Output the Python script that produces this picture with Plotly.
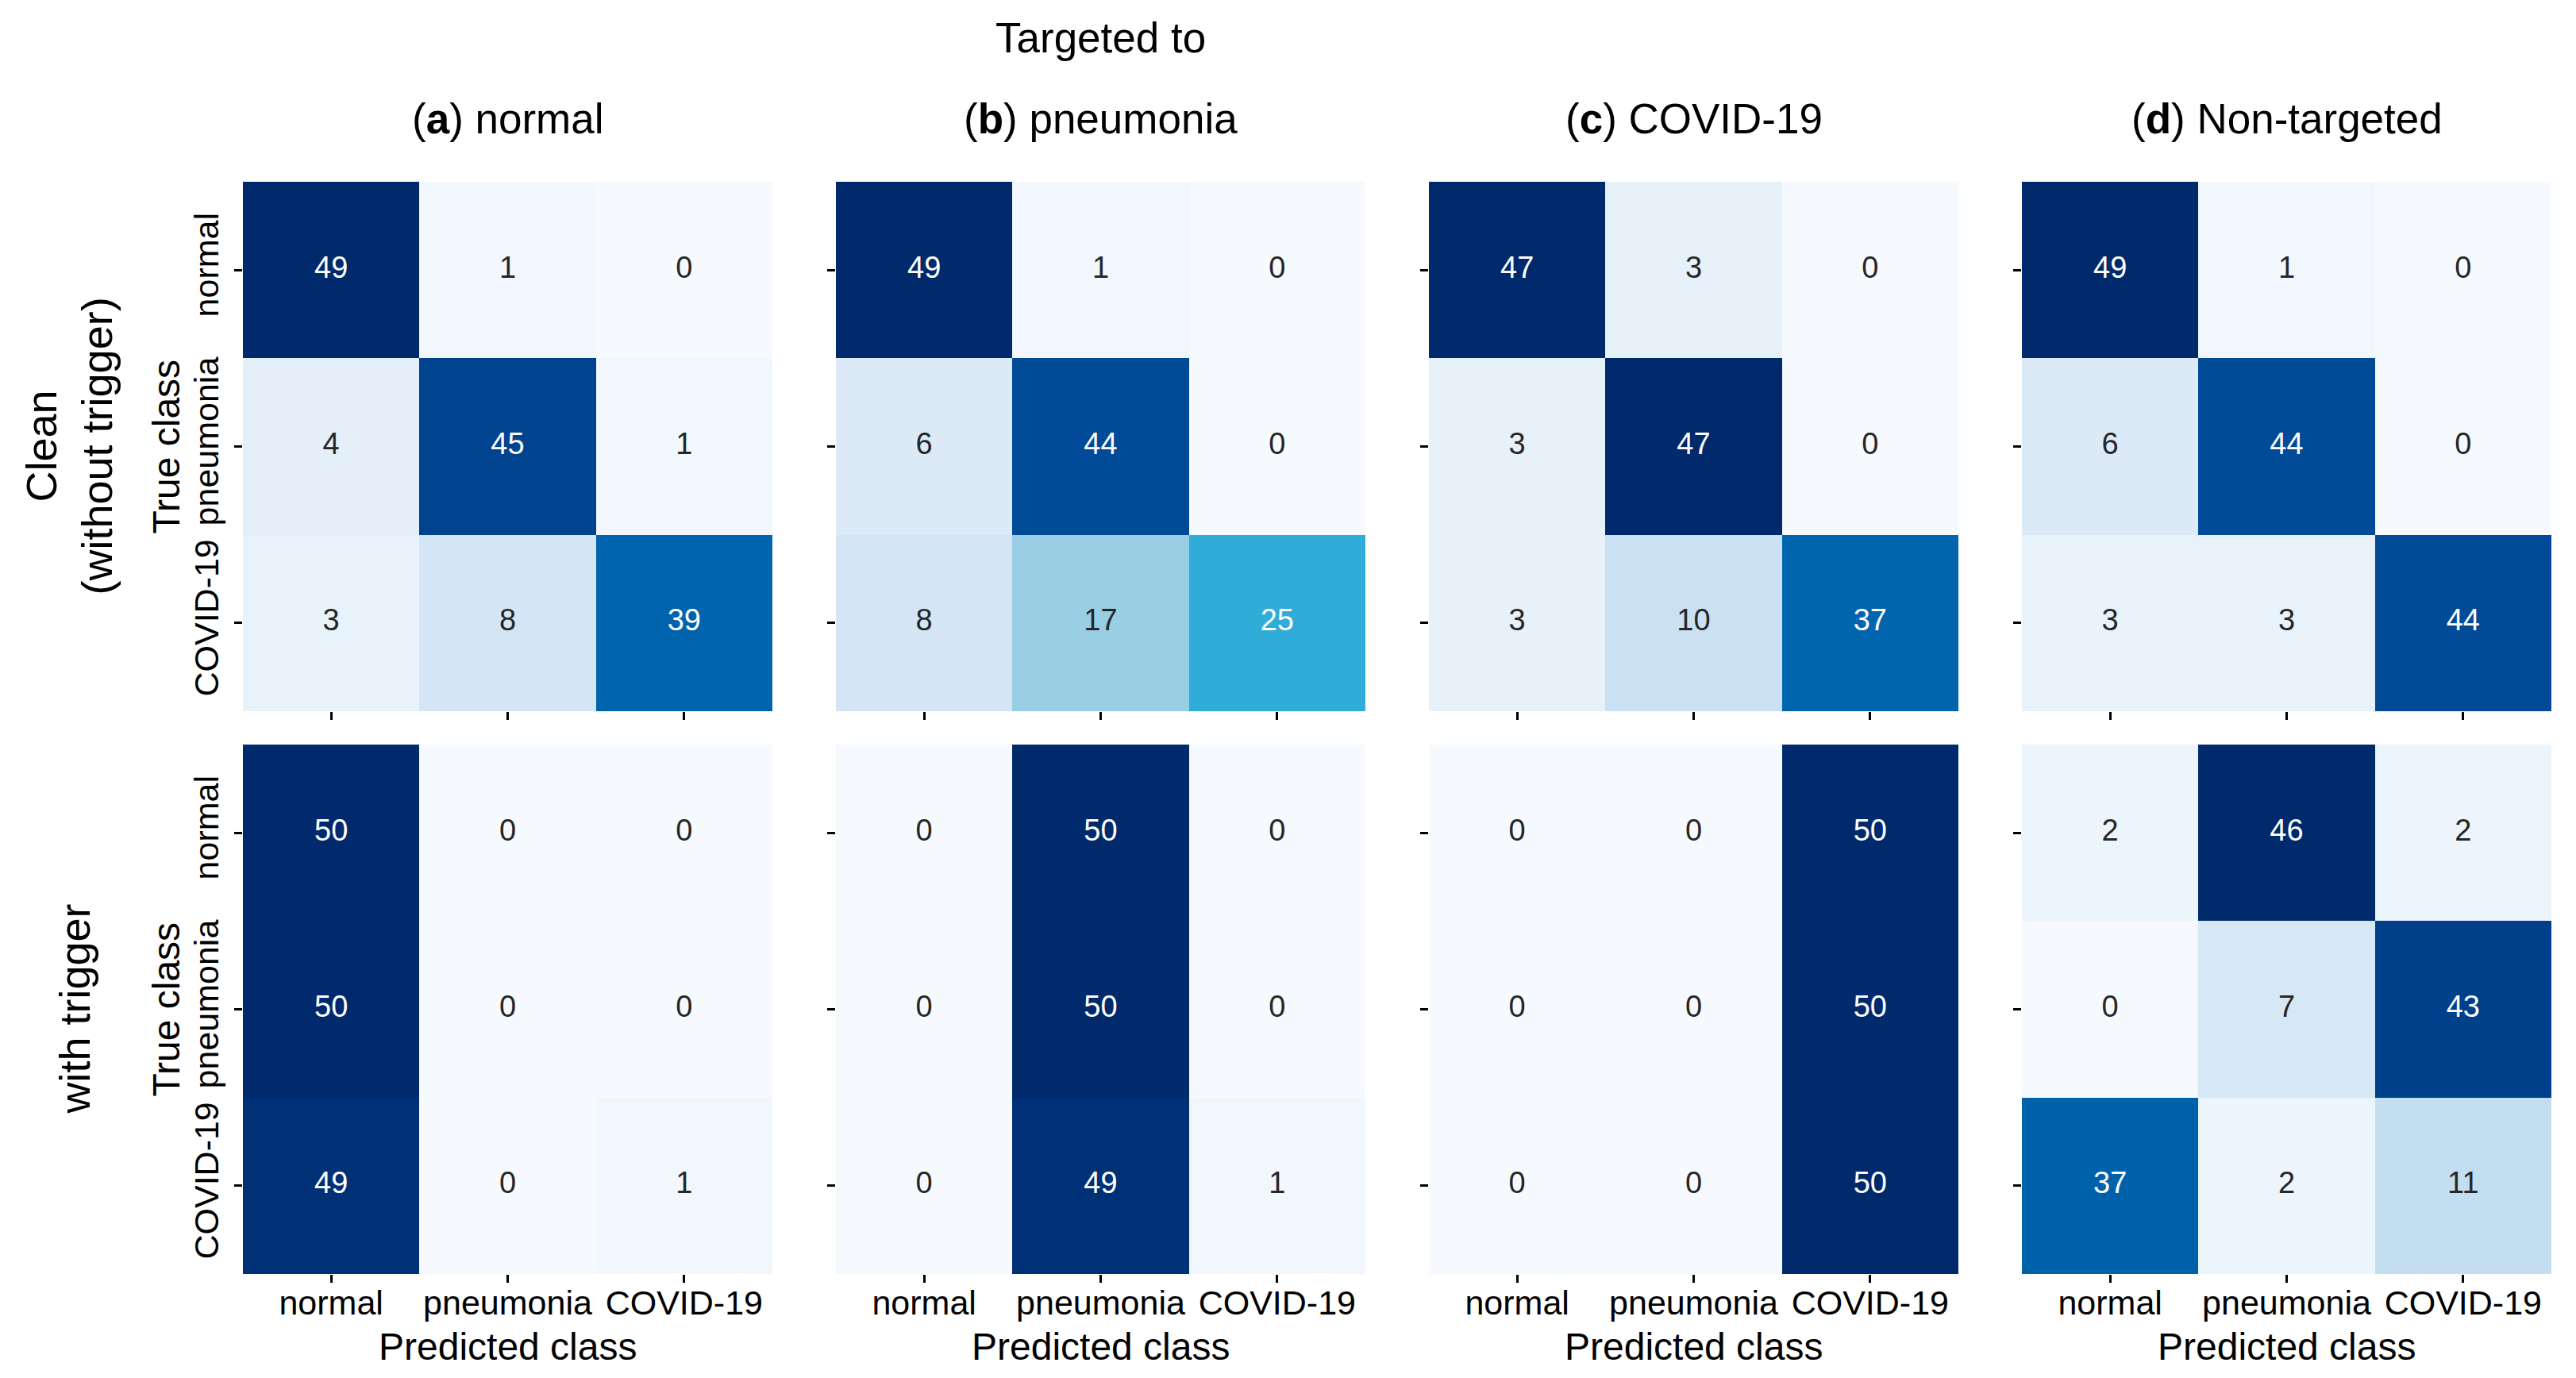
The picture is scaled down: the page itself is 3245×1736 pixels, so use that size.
import plotly.graph_objects as go

# ---------------- data ----------------
categories = ["normal", "pneumonia", "COVID-19"]
panel_letters = ["a", "b", "c", "d"]
panel_names = ["normal", "pneumonia", "COVID-19", "Non-targeted"]
row_labels = ["Clean<br>(without trigger)", "with trigger"]

clean_a = [[49, 1, 0], [4, 45, 1], [3, 8, 39]]
clean_b = [[49, 1, 0], [6, 44, 0], [8, 17, 25]]
clean_c = [[47, 3, 0], [3, 47, 0], [3, 10, 37]]
clean_d = [[49, 1, 0], [6, 44, 0], [3, 3, 44]]
trigger_a = [[50, 0, 0], [50, 0, 0], [49, 0, 1]]
trigger_b = [[0, 50, 0], [0, 50, 0], [0, 49, 1]]
trigger_c = [[0, 0, 50], [0, 0, 50], [0, 0, 50]]
trigger_d = [[2, 46, 2], [0, 7, 43], [37, 2, 11]]

matrices = [[clean_a, clean_b, clean_c, clean_d],
            [trigger_a, trigger_b, trigger_c, trigger_d]]

# ---------------- style ----------------
W, H = 3245, 1736
FONT = "Liberation Sans, Arial, Helvetica, sans-serif"
cs_points = [
    (0.00, (246, 250, 255)),
    (0.05, (234, 243, 251)),
    (0.125, (220, 234, 247)),
    (0.25, (193, 221, 240)),
    (0.35, (152, 206, 228)),
    (0.51, (47, 172, 216)),
    (0.65, (10, 135, 200)),
    (0.80, (0, 98, 172)),
    (0.90, (0, 74, 152)),
    (1.00, (0, 42, 108)),
]
colorscale = [[p, "rgb(%d,%d,%d)" % c] for p, c in cs_points]


def interp_color(t):
    for (p0, c0), (p1, c1) in zip(cs_points[:-1], cs_points[1:]):
        if p0 <= t <= p1:
            f = 0 if p1 == p0 else (t - p0) / (p1 - p0)
            return tuple(c0[i] + f * (c1[i] - c0[i]) for i in range(3))
    return cs_points[-1][1]


def luminance(rgb):
    def lin(v):
        v = v / 255.0
        return v / 12.92 if v <= 0.03928 else ((v + 0.055) / 1.055) ** 2.4
    r, g, b = (lin(v) for v in rgb)
    return 0.2126 * r + 0.7152 * g + 0.0722 * b


col_left = [306, 1053, 1800, 2547]
cell_size = 667
row_top = [229, 938]


def px_x(x):
    return x / W


def px_y(y):
    return 1 - y / H


fig = go.Figure()
layout_axes = {}
for r in range(2):
    for c in range(4):
        idx = r * 4 + c + 1
        suffix = "" if idx == 1 else str(idx)
        z = matrices[r][c]
        flat = [v for row in z for v in row]
        zmin, zmax = min(flat), max(flat)
        fig.add_trace(go.Heatmap(
            z=z, x=categories, y=categories,
            colorscale=colorscale, zmin=zmin, zmax=zmax,
            showscale=False, xaxis="x" + suffix, yaxis="y" + suffix,
            hoverinfo="skip", xgap=0, ygap=0,
        ))
        tx, ty, tt, tc = [], [], [], []
        for i, yc in enumerate(categories):
            for j, xc in enumerate(categories):
                v = z[i][j]
                t = (v - zmin) / (zmax - zmin) if zmax > zmin else 0
                col = interp_color(t)
                tx.append(xc)
                ty.append(yc)
                tt.append(str(v))
                tc.append("white" if luminance(col) < 0.408 else "#262626")
        fig.add_trace(go.Scatter(
            x=tx, y=ty, text=tt, mode="text",
            textfont=dict(family=FONT, size=38, color=tc),
            xaxis="x" + suffix, yaxis="y" + suffix,
            hoverinfo="skip", showlegend=False,
        ))
        x0 = col_left[c]
        y0 = row_top[r]
        layout_axes["xaxis" + suffix] = dict(
            domain=[px_x(x0), px_x(x0 + cell_size)],
            anchor="y" + suffix, type="category",
            categoryorder="array", categoryarray=categories,
            range=[-0.5, 2.5], showgrid=False, zeroline=False, showline=False,
            ticks="outside", ticklen=10, tickwidth=2.5, tickcolor="black",
            showticklabels=(r == 1), ticklabelstandoff=-12,
            tickfont=dict(family=FONT, size=43, color="black"),
            fixedrange=True,
        )
        layout_axes["yaxis" + suffix] = dict(
            domain=[px_y(y0 + cell_size), px_y(y0)],
            anchor="x" + suffix, type="category",
            categoryorder="array", categoryarray=categories,
            range=[2.5, -0.5], showgrid=False, zeroline=False, showline=False,
            ticks="outside", ticklen=10, tickwidth=2.5, tickcolor="black",
            showticklabels=(c == 0), tickangle=-90, ticklabelstandoff=3,
            tickfont=dict(family=FONT, size=43, color="black"),
            fixedrange=True,
        )

annotations = []
# overall title
annotations.append(dict(text="Targeted to", x=px_x(col_left[1] + cell_size / 2), y=px_y(47),
                        xref="paper", yref="paper", showarrow=False,
                        xanchor="center", yanchor="middle",
                        font=dict(family=FONT, size=53, color="black")))
for c in range(4):
    annotations.append(dict(
        text="(<b>%s</b>) %s" % (panel_letters[c], panel_names[c]),
        x=px_x(col_left[c] + cell_size / 2), y=px_y(150),
        xref="paper", yref="paper", showarrow=False,
        xanchor="center", yanchor="middle",
        font=dict(family=FONT, size=53, color="black")))
    annotations.append(dict(
        text="Predicted class",
        x=px_x(col_left[c] + cell_size / 2), y=px_y(1696),
        xref="paper", yref="paper", showarrow=False,
        xanchor="center", yanchor="middle",
        font=dict(family=FONT, size=48, color="black")))
row_label_x = [86, 93]
for r in range(2):
    yc = row_top[r] + cell_size / 2
    annotations.append(dict(
        text=row_labels[r], x=px_x(row_label_x[r]), y=px_y(yc),
        xref="paper", yref="paper", showarrow=False, textangle=-90,
        xanchor="center", yanchor="middle",
        font=dict(family=FONT, size=54, color="black")))
    annotations.append(dict(
        text="True class", x=px_x(209), y=px_y(yc),
        xref="paper", yref="paper", showarrow=False, textangle=-90,
        xanchor="center", yanchor="middle",
        font=dict(family=FONT, size=48, color="black")))

fig.update_layout(
    width=W, height=H,
    margin=dict(l=0, r=0, t=0, b=0, pad=0),
    paper_bgcolor="white", plot_bgcolor="white",
    showlegend=False,
    annotations=annotations,
    **layout_axes,
)

fig.write_html("out.html",
               config={"displayModeBar": False},
               post_script="document.body.style.margin='0';document.body.style.overflow='hidden';")
